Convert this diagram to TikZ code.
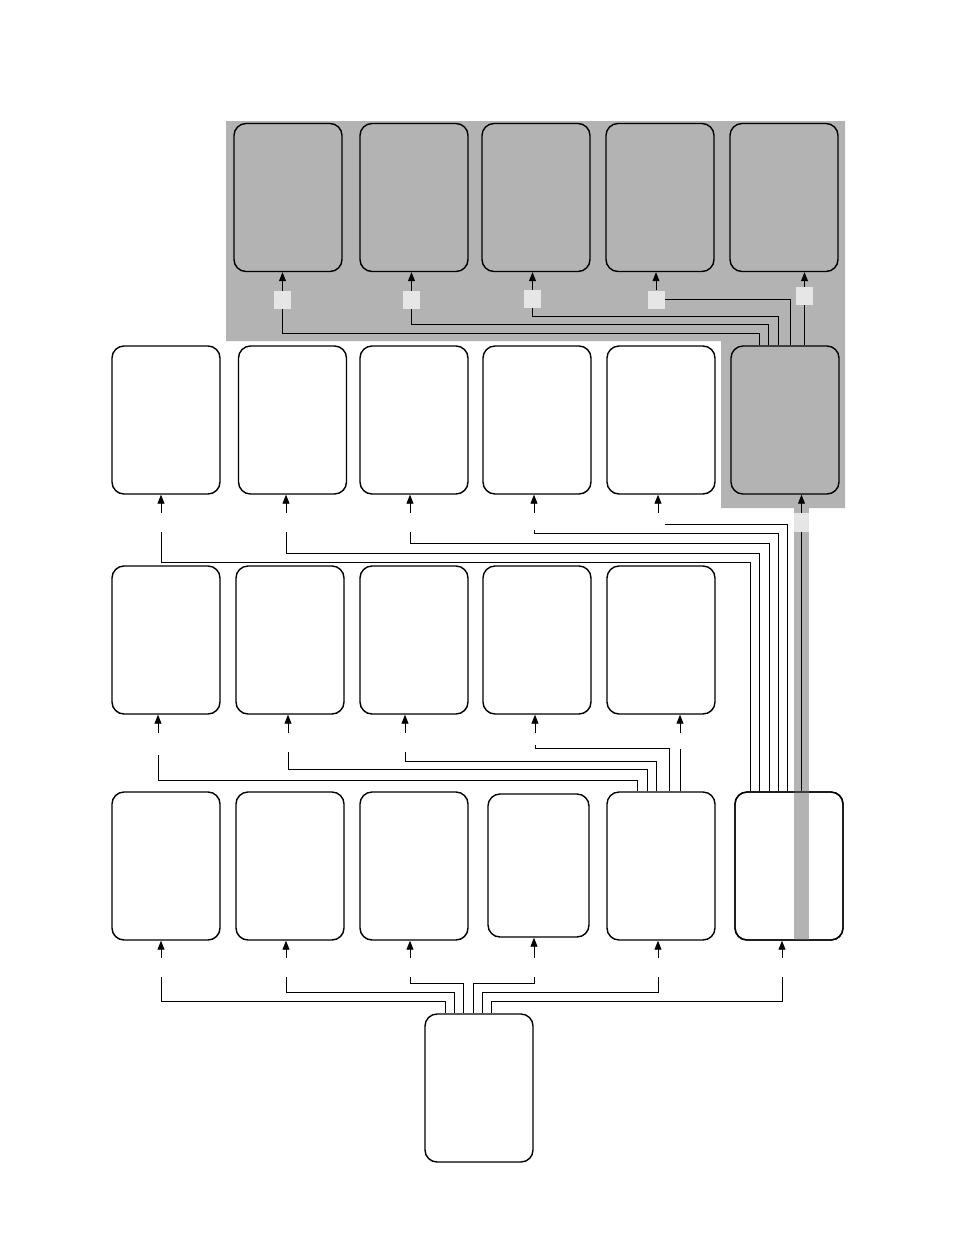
\documentclass[tikz,border=0pt]{standalone}
\usetikzlibrary{arrows.meta,calc}
\definecolor{gbg}{RGB}{179,179,179}
\definecolor{lsq}{RGB}{230,230,230}
\begin{document}
\begin{tikzpicture}[x=1pt,y=-1pt,
  box/.style={draw,line width=1.4pt,rounded corners=12pt,inner sep=0pt,minimum width=108pt,minimum height=148pt},
  sq/.style={fill=lsq,inner sep=0pt,minimum width=17pt,minimum height=18pt},
  ln/.style={line width=0.9pt},
  arr/.style={line width=0.9pt,-{Triangle[length=9pt,width=7pt]}}]
\useasboundingbox (0,0) rectangle (954,1235);
% grey background region
\fill[gbg] (226,121) -- (845,121) -- (845,508) -- (721,508) -- (721,341) -- (226,341) -- cycle;
% top row
\node[box,fill=gbg] (T1) at (288,197.5) {};
\node[box,fill=gbg] (T2) at (414,197.5) {};
\node[box,fill=gbg] (T3) at (536,197.5) {};
\node[box,fill=gbg] (T4) at (660,197.5) {};
\node[box,fill=gbg] (T5) at (784,197.5) {};
% row 2
\node[box,fill=white] (A1) at (166,420) {};
\node[box,fill=white] (A2) at (292.5,420) {};
\node[box,fill=white] (A3) at (414,420) {};
\node[box,fill=white] (A4) at (537,420) {};
\node[box,fill=white] (A5) at (661,420) {};
\node[box,fill=gbg] (A6) at (785,420) {};
% row 3
\node[box,fill=white] (B1) at (166,640) {};
\node[box,fill=white] (B2) at (290,640) {};
\node[box,fill=white] (B3) at (414,640) {};
\node[box,fill=white] (B4) at (537,640) {};
\node[box,fill=white] (B5) at (661,640) {};
% row 4
\node[box,fill=white] (C1) at (166,866) {};
\node[box,fill=white] (C2) at (290,866) {};
\node[box,fill=white] (C3) at (414,866) {};
\node[box,fill=white,minimum width=101pt,minimum height=143pt] (C4) at (538.5,865.5) {};
\node[box,fill=white] (C5) at (661,866) {};
\node[box,fill=white] (C6) at (789,866) {};
% bottom
\node[box,fill=white] (D) at (479,1088) {};
% grey strip through the right column
\fill[gbg] (794,508) rectangle (809,940);
\node[box] at (C6.center) {};
% small squares
\node[sq] (S1) at (282.5,300) {};
\node[sq] (S2) at (411.5,300) {};
\node[sq] (S3) at (532.5,299) {};
\node[sq] (S4) at (656,299.5) {};
\node[sq] (S5) at (804.5,296) {};
\node[sq,minimum width=15pt,minimum height=19pt] (S6) at (801.5,522.5) {};
% top arrows
\foreach \s/\t in {S1/T1,S2/T2,S3/T3,S4/T4,S5/T5}
  \draw[arr] (\s.north) -- (\s.north |- \t.south);
% top routes into A6
\draw[ln] (S1.south) |- (759,333) -- (759,0 |- A6.north);
\draw[ln] (S2.south) |- (768,324) -- (768,0 |- A6.north);
\draw[ln] (S3.south) |- (778,316) -- (778,0 |- A6.north);
\draw[ln] (S4.east) -- (790,299.5) -- (790,0 |- A6.north);
\draw[ln] (S5.south) -- (S5.south |- A6.north);
% row 2 stubs
\foreach \x/\t in {161/A1,286/A2,410/A3,534/A4,658/A5}{
  \coordinate (a\t) at (\x,513);
  \draw[arr] (a\t) -- (a\t |- \t.south);}
\draw[arr] (S6.north) -- (S6.north |- A6.south);
% routes from C6 up to row 2
\coordinate (rA1) at (161,532);
\coordinate (rA2) at (286,532);
\coordinate (rA3) at (410,532);
\coordinate (rA4) at (534,530);
\coordinate (rA5) at (665,524);
\draw[ln] (750,0 |- C6.north) -- (750,562) -| (rA1);
\draw[ln] (759,0 |- C6.north) -- (759,553) -| (rA2);
\draw[ln] (769,0 |- C6.north) -- (769,543) -| (rA3);
\draw[ln] (778,0 |- C6.north) -- (778,533) -| (rA4);
\draw[ln] (787,0 |- C6.north) -- (787,524) -- (rA5);
\draw[ln] (S6.south -| 801.5,0) -- (801.5,0 |- C6.north);
% row 3 stubs
\foreach \x/\t in {158/B1,288/B2,405/B3,535/B4,680/B5}{
  \coordinate (b\t) at (\x,733);
  \draw[arr] (b\t) -- (b\t |- \t.south);}
\coordinate (rB1) at (158,755);
\coordinate (rB2) at (288,752);
\coordinate (rB3) at (405,752);
\coordinate (rB4) at (535,745);
\coordinate (rB5) at (680,749);
\draw[ln] (637,0 |- C5.north) -- (637,780) -| (rB1);
\draw[ln] (647,0 |- C5.north) -- (647,769) -| (rB2);
\draw[ln] (656,0 |- C5.north) -- (656,761) -| (rB3);
\draw[ln] (669,0 |- C5.north) -- (669,748) -| (rB4);
\draw[ln] (680,0 |- C5.north) -- (rB5);
% row 4 stubs
\foreach \x/\t in {161/C1,286/C2,410/C3,534/C4,658/C5,782/C6}{
  \coordinate (c\t) at (\x,958);
  \draw[arr] (c\t) -- (c\t |- \t.south);}
\coordinate (rC1) at (161,977);
\coordinate (rC2) at (286,977);
\coordinate (rC3) at (410,977);
\coordinate (rC4) at (534,977);
\coordinate (rC5) at (658,977);
\coordinate (rC6) at (782,977);
\draw[ln] (445,0 |- D.north) -- (445,1001) -| (rC1);
\draw[ln] (454,0 |- D.north) -- (454,992) -| (rC2);
\draw[ln] (463,0 |- D.north) -- (463,983) -| (rC3);
\draw[ln] (473,0 |- D.north) -- (473,983) -| (rC4);
\draw[ln] (482,0 |- D.north) -- (482,992) -| (rC5);
\draw[ln] (491,0 |- D.north) -- (491,1001) -| (rC6);
\end{tikzpicture}
\end{document}
